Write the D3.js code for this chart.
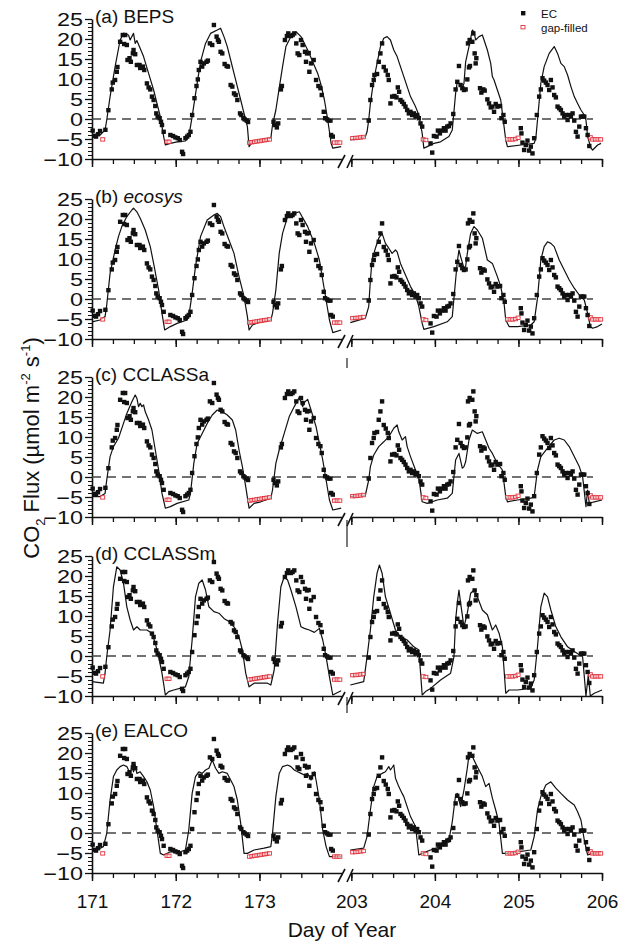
<!DOCTYPE html>
<html>
<head>
<meta charset="utf-8">
<script src="https://cdn.jsdelivr.net/npm/d3@7"></script>
<style>
  body { margin: 0; background: #fff; }
  svg { display: block; }
  text { font-family: Arial, "Liberation Sans", Helvetica, sans-serif; fill: #111; }
</style>
</head>
<body>
<svg id="chart" width="626" height="943"></svg>
<script>
// ---- data -------------------------------------------------------------
const majorDays = [171, 172, 173, 203, 204, 205, 206];
const fluxTicks = [-10, -5, 0, 5, 10, 15, 20, 25];
const panelLabels = ["(a) ", "(b) ", "(c) ", "(d) ", "(e) "];
const modelNames = ["BEPS", "ecosys", "CCLASSa", "CCLASSm", "EALCO"];

// eddy-covariance observations [day of year, flux]
const ecObs = [
  [171.008,-2.9],[171.028,-4.2],[171.048,-4.4],[171.072,-3.8],[171.096,-3.0],[171.160,-2.7],
  [171.196,2.2],[171.236,7.4],[171.248,9.1],[171.276,9.75],[171.296,11.8],[171.304,13.0],
  [171.336,19.3],[171.368,21.0],[171.396,21.0],[171.384,18.75],[171.416,18.5],[171.424,14.75],
  [171.448,15.2],[171.464,14.3],[171.488,16.4],[171.496,17.25],[171.516,16.2],[171.536,13.5],
  [171.568,13.5],[171.576,12.75],[171.608,13.1],[171.624,12.25],[171.656,8.9],[171.676,7.9],
  [171.696,7.4],[171.716,5.6],[171.736,4.75],[171.756,3.25],[171.768,1.4],[171.784,0.6],
  [171.808,0.2],[171.824,-0.7],[171.836,-1.5],[171.856,-3.2],
  [171.936,-4.0],[171.968,-4.25],[171.996,-4.6],[172.024,-4.8],[172.048,-5.25],[172.076,-8.2],
  [172.088,-8.75],[172.116,-4.8],[172.136,-4.4],[172.156,-4.0],[172.176,-3.2],
  [172.196,1.0],[172.224,5.2],[172.248,8.25],[172.264,9.9],[172.276,12.25],[172.296,14.3],
  [172.316,13.1],[172.336,13.9],[172.368,14.3],[172.384,14.6],[172.408,18.9],[172.436,18.5],
  [172.456,23.5],[172.488,20.6],[172.504,19.75],[172.516,19.3],[172.536,16.8],[172.556,16.4],
  [172.584,13.75],[172.608,13.25],[172.624,13.1],[172.656,8.5],[172.676,8.1],[172.696,6.4],
  [172.716,6.0],[172.736,4.75],[172.768,1.4],[172.784,1.0],[172.808,0.2],[172.824,-0.1],
  [172.848,-0.4],[172.864,-0.75],
  [173.168,-0.7],[173.184,-1.5],[173.208,-2.1],[173.224,-1.1],[173.256,7.4],[173.268,8.25],
  [173.304,19.75],[173.328,20.75],[173.344,21.4],[173.376,20.75],[173.396,21.0],[173.416,21.4],
  [173.44,18.9],[173.456,16.4],[173.476,16.0],[173.496,19.75],[173.516,18.5],[173.544,16.8],
  [173.556,14.3],[173.568,16.4],[173.588,16.5],[173.596,11.8],[173.616,13.9],[173.648,14.75],
  [173.676,9.75],[173.704,8.25],[173.728,7.7],[173.744,6.0],[173.768,1.8],[173.784,0.2],
  [173.808,-0.1],[173.824,-0.4],[173.848,-0.4],[173.856,-4.0],[173.876,-4.4],
  [203.208,-0.4],[203.228,4.75],[203.248,8.5],[203.268,9.75],[203.276,11.0],[203.308,11.25],
  [203.328,14.3],[203.348,16.4],[203.368,18.9],[203.388,13.0],[203.412,12.1],[203.436,11.0],
  [203.448,9.75],[203.468,3.9],[203.488,5.6],[203.516,5.75],[203.54,5.4],[203.556,7.9],
  [203.572,6.8],[203.588,4.75],[203.608,4.3],[203.628,3.75],[203.648,3.1],[203.668,2.25],
  [203.688,1.4],[203.708,1.8],[203.728,1.0],[203.748,1.4],[203.768,0.6],[203.788,1.0],
  [203.808,0.2],[203.828,-1.1],[203.848,-1.9],
  [203.948,-6.1],[203.968,-8.4],[203.988,-4.25],[204.02,-4.4],[204.036,-2.9],[204.06,-3.6],
  [204.084,-2.9],[204.108,-2.3],[204.128,-2.9],[204.148,-1.9],[204.168,-1.75],[204.188,-1.1],
  [204.22,1.25],[204.248,7.4],[204.268,9.3],[204.288,13.25],[204.308,8.5],[204.328,7.7],
  [204.348,7.25],[204.368,7.4],[204.388,9.9],[204.408,12.9],[204.42,13.25],[204.396,18.9],
  [204.416,19.75],[204.448,19.3],[204.46,21.4],[204.476,16.4],[204.488,13.9],[204.496,15.2],
  [204.54,7.7],[204.556,6.6],[204.58,7.4],[204.596,7.1],[204.628,4.9],[204.648,3.9],
  [204.668,2.9],[204.688,3.1],[204.708,1.8],[204.728,3.75],[204.748,3.1],[204.78,3.25],
  [204.796,0.2],[204.82,1.0],[204.836,-0.7],
  [205.028,-2.3],[205.036,-3.6],[205.048,-5.9],[205.068,-7.75],[205.088,-6.5],[205.108,-5.4],
  [205.128,-7.9],[205.148,-6.9],[205.168,-8.6],[205.188,-4.8],[205.22,1.0],[205.248,5.6],
  [205.268,7.4],[205.288,10.2],[205.308,9.6],[205.328,9.1],[205.348,8.5],[205.368,7.25],
  [205.388,9.75],[205.408,7.9],[205.428,6.0],[205.448,5.4],[205.468,3.1],[205.488,2.7],
  [205.508,2.25],[205.528,1.4],[205.548,0.6],[205.568,1.0],[205.588,-0.25],[205.608,1.0],
  [205.628,0.6],[205.648,1.4],[205.668,-0.4],[205.688,-3.2],[205.708,-4.4],[205.728,-1.9],
  [205.748,0.6],[205.768,0.6],[205.788,0.6],[205.808,-2.3],[205.828,-4.0],[205.848,-6.75]
];

// gap-filled night-time values [day of year, flux]
const gapFilled = [
  [171.128,-5.1],[171.896,-5.7],[171.92,-5.7],
  [172.88,-5.9],[172.91,-5.8],[172.94,-5.7],[172.97,-5.6],[173.0,-5.5],[173.03,-5.4],
  [173.06,-5.3],[173.09,-5.2],[173.12,-5.1],
  [173.896,-5.9],[173.928,-5.9],[173.96,-5.9],
  [203.016,-4.8],[203.048,-4.75],[203.08,-4.7],[203.112,-4.6],[203.144,-4.5],
  [203.86,-5.1],[203.892,-5.25],
  [204.868,-5.1],[204.9,-5.1],[204.932,-5.1],[204.964,-5.0],[204.996,-4.7],
  [205.86,-4.6],[205.888,-5.1],[205.92,-5.1],[205.952,-5.1],[205.984,-5.1]
];

// simulated fluxes [day of year, flux]
const bepsFlux = [
  [171.0,-4.4],[171.096,-4.0],[171.156,-2.75],[171.176,-0.25],[171.216,5.6],[171.276,13.1],
  [171.336,19.75],[171.376,21.4],[171.436,21.0],[171.456,19.75],[171.476,20.6],[171.496,21.4],
  [171.516,18.9],[171.536,19.6],[171.616,15.6],[171.676,11.4],[171.736,7.25],[171.776,3.9],
  [171.816,0.6],[171.856,-4.4],[171.876,-6.5],[171.936,-6.1],[172.016,-5.7],[172.116,-5.5],
  [172.156,-4.4],[172.196,0.6],[172.256,8.9],[172.296,14.3],[172.356,18.9],[172.416,21.4],
  [172.496,22.25],[172.536,22.7],[172.576,20.6],[172.616,18.1],[172.656,14.75],[172.696,11.4],
  [172.736,8.1],[172.776,4.75],[172.816,1.4],[172.856,-1.9],[172.876,-6.9],[172.916,-5.7],
  [173.016,-5.25],[173.136,-4.8],[173.156,-1.5],[173.196,2.25],[173.236,7.7],[173.276,13.1],
  [173.316,18.1],[173.376,20.6],[173.436,21.8],[173.496,20.6],[173.576,17.25],[173.636,14.3],
  [173.696,11.4],[173.736,8.5],[173.776,4.75],[173.816,-0.25],[173.856,-6.1],[173.876,-7.3],
  [173.976,-6.9],
  [202.988,-5.25],[203.168,-4.4],[203.188,-3.2],[203.208,-0.25],[203.228,3.9],[203.268,9.75],
  [203.308,13.9],[203.348,18.1],[203.388,20.2],[203.428,20.6],[203.468,19.75],[203.508,17.25],
  [203.548,15.6],[203.588,13.1],[203.628,10.6],[203.668,8.1],[203.708,5.6],[203.768,3.1],
  [203.808,1.0],[203.848,-3.6],[203.868,-7.3],[203.908,-6.9],[203.988,-6.1],[204.068,-5.7],
  [204.168,-4.4],[204.208,-2.75],[204.248,6.4],[204.268,9.3],[204.308,8.5],[204.328,7.7],
  [204.348,8.9],[204.368,14.3],[204.408,18.1],[204.448,22.25],[204.468,21.8],[204.488,19.75],
  [204.528,20.6],[204.568,21.0],[204.628,17.25],[204.668,13.9],[204.688,10.6],[204.708,9.75],
  [204.748,7.25],[204.788,4.75],[204.808,1.4],[204.848,-5.25],[204.868,-6.9],[205.028,-6.5],
  [205.188,-6.1],[205.208,-4.8],[205.228,-0.25],[205.268,8.9],[205.308,13.1],[205.368,16.4],
  [205.428,18.1],[205.468,16.4],[205.508,13.9],[205.548,13.1],[205.588,11.0],[205.628,8.1],
  [205.668,5.6],[205.708,3.9],[205.748,2.25],[205.788,1.0],[205.808,-0.25],[205.828,-4.4],
  [205.868,-7.3],[205.888,-7.75],[205.948,-6.5],[205.988,-6.1]
];

const ecosysFlux = [
  [171.0,-5.7],[171.096,-5.25],[171.156,-4.4],[171.176,-1.5],[171.216,6.4],[171.276,12.25],
  [171.316,15.6],[171.356,18.1],[171.416,20.6],[171.476,22.25],[171.496,22.7],[171.536,21.8],
  [171.576,20.2],[171.636,17.25],[171.696,13.1],[171.736,8.9],[171.796,2.25],[171.836,-3.6],
  [171.868,-7.75],[171.936,-6.9],[172.016,-6.1],[172.136,-5.25],[172.156,-4.4],[172.196,1.4],
  [172.236,8.1],[172.296,15.6],[172.376,19.75],[172.456,21.0],[172.496,21.4],[172.536,20.6],
  [172.576,18.1],[172.636,14.75],[172.696,11.4],[172.756,5.6],[172.816,0.6],[172.856,-4.4],
  [172.876,-7.75],[172.916,-6.5],[173.016,-5.7],[173.136,-5.25],[173.156,-3.6],[173.196,2.25],
  [173.236,11.4],[173.276,16.4],[173.336,20.6],[173.416,21.4],[173.476,21.8],[173.576,18.1],
  [173.656,13.9],[173.716,9.75],[173.756,4.75],[173.796,-0.25],[173.836,-5.25],[173.876,-8.4],
  [173.976,-7.75],
  [202.988,-5.9],[203.168,-4.8],[203.208,-1.9],[203.228,4.75],[203.248,9.75],[203.288,12.7],
  [203.328,15.2],[203.368,16.4],[203.408,13.9],[203.448,12.7],[203.488,11.4],[203.528,12.25],
  [203.548,11.8],[203.588,8.9],[203.648,6.0],[203.708,3.1],[203.768,1.0],[203.808,-1.9],
  [203.848,-6.1],[203.868,-7.6],[203.988,-6.9],[204.148,-5.7],[204.208,-4.4],[204.248,4.75],
  [204.268,9.3],[204.288,12.25],[204.308,10.6],[204.348,7.7],[204.368,8.1],[204.388,11.4],
  [204.428,16.4],[204.468,18.1],[204.508,17.25],[204.568,15.2],[204.628,9.75],[204.688,8.9],
  [204.748,5.6],[204.788,3.1],[204.828,-1.1],[204.848,-5.25],[204.888,-6.9],[204.988,-6.9],
  [205.148,-6.5],[205.188,-5.7],[205.228,0.2],[205.268,9.75],[205.308,13.1],[205.348,14.3],
  [205.388,13.9],[205.428,13.1],[205.488,9.75],[205.548,7.25],[205.608,4.75],[205.668,2.7],
  [205.728,1.0],[205.788,-0.25],[205.828,-3.6],[205.86,-6.9],[205.888,-7.3],[205.948,-6.9],
  [206.0,-6.25]
];

const cclassaFlux = [
  [171.0,-4.9],[171.096,-4.9],[171.156,-4.1],[171.176,-0.75],[171.216,5.1],[171.256,7.6],
  [171.316,9.7],[171.376,13.4],[171.416,15.9],[171.476,18.8],[171.516,20.5],[171.536,19.7],
  [171.556,17.6],[171.576,18.4],[171.596,17.6],[171.616,18.0],[171.636,16.3],[171.676,14.25],
  [171.716,11.75],[171.756,6.75],[171.796,1.75],[171.836,-4.1],[171.876,-7.8],[171.936,-7.4],
  [172.016,-6.6],[172.156,-5.75],[172.176,-4.1],[172.216,3.4],[172.256,8.4],[172.316,10.9],
  [172.376,13.4],[172.436,15.5],[172.496,16.75],[172.556,16.3],[172.616,15.5],[172.676,14.25],
  [172.716,11.75],[172.756,6.75],[172.796,2.6],[172.836,-2.4],[172.876,-7.8],[172.936,-6.6],
  [173.016,-6.2],[173.136,-5.3],[173.156,-3.25],[173.196,3.4],[173.236,6.75],[173.296,10.9],
  [173.356,15.1],[173.416,17.6],[173.476,19.9],[173.516,17.6],[173.544,18.8],[173.576,19.4],
  [173.616,16.75],[173.676,12.6],[173.716,8.4],[173.756,4.25],[173.796,-0.75],[173.836,-5.75],
  [173.876,-8.25],[173.976,-7.8],
  [202.988,-4.9],[203.168,-4.5],[203.208,-0.75],[203.228,2.6],[203.268,5.5],[203.328,7.6],
  [203.388,8.8],[203.448,10.1],[203.508,12.2],[203.548,13.0],[203.568,11.3],[203.608,9.25],
  [203.648,10.1],[203.668,7.6],[203.708,5.1],[203.768,1.75],[203.808,-0.3],[203.848,-6.2],
  [203.908,-6.6],[204.028,-5.75],[204.148,-5.3],[204.208,-4.1],[204.248,4.25],[204.288,5.9],
  [204.328,2.2],[204.348,2.6],[204.368,3.8],[204.408,9.25],[204.448,11.75],[204.508,10.9],
  [204.568,11.3],[204.608,9.25],[204.648,7.2],[204.688,5.9],[204.748,3.4],[204.808,1.75],
  [204.848,-4.9],[204.868,-6.2],[204.988,-5.75],[205.148,-5.3],[205.188,-4.9],[205.228,1.75],
  [205.268,5.1],[205.348,7.2],[205.428,9.25],[205.488,9.7],[205.548,9.25],[205.608,7.6],
  [205.668,5.1],[205.728,2.6],[205.768,0.1],[205.808,-7.4],[205.828,-3.25],[205.848,-6.6],
  [205.908,-6.2],[206.0,-5.75]
];

const cclassmFlux = [
  [171.0,-6.4],[171.136,-6.8],[171.156,-4.3],[171.176,-0.2],[171.216,6.5],[171.256,17.3],
  [171.296,22.3],[171.336,21.5],[171.376,18.2],[171.416,12.3],[171.456,9.0],[171.496,6.5],
  [171.536,7.3],[171.576,6.5],[171.656,6.5],[171.716,5.7],[171.756,3.2],[171.796,-0.2],
  [171.836,-4.3],[171.876,-9.75],[171.916,-8.9],[171.976,-8.5],[172.116,-7.7],[172.156,-5.2],
  [172.196,4.0],[172.236,14.8],[172.276,18.2],[172.316,19.0],[172.356,16.5],[172.396,12.3],
  [172.456,11.1],[172.516,10.7],[172.576,9.4],[172.636,8.6],[172.696,7.3],[172.756,4.8],
  [172.796,1.5],[172.836,-4.3],[172.876,-7.7],[172.936,-6.8],[173.096,-6.8],[173.136,-7.25],
  [173.176,-3.5],[173.216,8.2],[173.256,17.3],[173.296,19.8],[173.336,19.0],[173.376,16.5],
  [173.436,12.3],[173.496,7.3],[173.536,6.9],[173.596,6.5],[173.656,5.9],[173.716,6.9],
  [173.756,4.0],[173.796,-0.2],[173.836,-5.2],[173.876,-9.75],[173.916,-9.3],[173.976,-8.7],
  [202.988,-7.25],[203.148,-6.4],[203.188,-0.2],[203.228,6.5],[203.268,14.8],[203.308,20.7],
  [203.336,22.75],[203.368,20.7],[203.408,14.8],[203.468,10.7],[203.528,6.5],[203.588,4.8],
  [203.668,4.0],[203.748,2.3],[203.808,1.5],[203.848,-9.75],[203.888,-8.9],[203.948,-8.1],
  [204.068,-6.0],[204.188,-4.3],[204.228,-0.2],[204.248,9.0],[204.268,13.2],[204.288,16.5],
  [204.308,13.2],[204.348,7.3],[204.388,10.7],[204.428,15.7],[204.468,16.5],[204.508,14.8],
  [204.568,11.5],[204.628,10.3],[204.688,6.5],[204.728,7.75],[204.768,5.7],[204.808,2.3],
  [204.848,-9.3],[204.888,-8.5],[204.988,-8.5],[205.148,-8.1],[205.188,-6.0],[205.228,2.3],
  [205.268,12.3],[205.308,15.7],[205.348,14.8],[205.388,11.5],[205.448,7.3],[205.508,4.8],
  [205.588,2.3],[205.668,1.1],[205.768,-0.2],[205.808,-10.0],[205.836,-4.75],[205.86,-10.0],
  [205.908,-9.3],[206.0,-8.5]
];

const ealcoFlux = [
  [171.0,-3.8],[171.056,-4.25],[171.136,-3.4],[171.176,-0.1],[171.216,8.25],[171.256,14.1],
  [171.296,15.75],[171.336,16.6],[171.376,17.0],[171.416,16.6],[171.456,14.9],[171.476,16.6],
  [171.496,15.3],[171.516,17.0],[171.536,14.9],[171.576,15.3],[171.616,14.1],[171.656,12.8],
  [171.696,10.75],[171.736,6.6],[171.776,0.75],[171.816,-5.1],[171.856,-5.5],[171.936,-4.7],
  [172.056,-4.7],[172.116,-4.25],[172.156,0.75],[172.196,9.9],[172.236,14.1],[172.276,15.3],
  [172.316,14.9],[172.356,15.75],[172.396,16.2],[172.436,18.25],[172.476,16.2],[172.516,14.9],
  [172.556,15.3],[172.616,14.9],[172.656,13.25],[172.696,11.6],[172.736,8.25],[172.776,2.4],
  [172.816,-5.1],[172.856,-5.1],[172.936,-4.25],[173.056,-3.8],[173.136,-3.4],[173.156,-0.1],
  [173.196,9.1],[173.236,14.9],[173.276,16.6],[173.336,17.0],[173.376,16.6],[173.416,15.75],
  [173.456,15.3],[173.496,14.9],[173.536,14.5],[173.576,14.9],[173.616,13.25],[173.656,15.3],
  [173.676,13.25],[173.716,8.25],[173.756,0.75],[173.796,-3.4],[173.836,-5.9],[173.976,-5.9],
  [202.988,-4.25],[203.148,-3.8],[203.188,-0.9],[203.228,5.75],[203.268,11.6],[203.308,14.1],
  [203.368,14.9],[203.408,15.3],[203.448,16.6],[203.468,15.75],[203.508,17.0],[203.528,13.7],
  [203.568,11.6],[203.608,9.9],[203.628,9.1],[203.668,6.6],[203.708,4.1],[203.768,1.6],
  [203.808,-5.5],[203.848,-5.1],[203.948,-4.25],[204.068,-3.4],[204.168,-1.75],[204.208,2.8],
  [204.248,9.5],[204.268,9.9],[204.308,6.6],[204.348,10.75],[204.388,16.2],[204.408,19.5],
  [204.448,19.1],[204.488,17.4],[204.528,15.75],[204.568,14.1],[204.608,11.6],[204.648,12.4],
  [204.688,8.7],[204.728,5.75],[204.768,2.4],[204.808,-5.1],[204.868,-5.1],[204.988,-4.7],
  [205.148,-4.25],[205.188,-0.9],[205.228,5.75],[205.268,9.1],[205.328,12.0],[205.388,12.8],
  [205.448,11.2],[205.508,9.9],[205.588,8.25],[205.668,7.0],[205.708,5.3],[205.748,3.25],
  [205.788,-1.75],[205.828,-5.5],[205.888,-5.1],[205.988,-4.7]
];

const modelSeries = [bepsFlux, ecosysFlux, cclassaFlux, cclassmFlux, ealcoFlux];

// ---- layout -----------------------------------------------------------
const svg = d3.select("#chart");
const panelTops = [19, 199, 377, 556, 733];
const panelHeight = 140;
const xLeft = d3.scaleLinear().domain([171, 173.98]).range([92, 341.5]);
const xRight = d3.scaleLinear().domain([202.99, 206]).range([350.5, 602]);
const isLeft = d => d < 190;
const xPos = d => isLeft(d) ? xLeft(d) : xRight(d);

const minorLeft = d3.range(171, 173.9, 0.25);
const minorRight = d3.range(203, 206.01, 0.25);

modelSeries.forEach((model, i) => {
  const top = panelTops[i];
  const bottom = top + panelHeight;
  const y = d3.scaleLinear().domain([-10, 25]).range([bottom, top]);
  const g = svg.append("g");
  const last = i === modelSeries.length - 1;

  // y axis: minor ticks every unit, labelled major ticks every 5
  g.append("g").attr("transform", "translate(92,0)")
    .call(d3.axisLeft(y).tickValues(d3.range(-10, 26, 1)).tickSize(4).tickSizeOuter(0).tickFormat(""))
    .call(a => a.select(".domain").remove())
    .call(a => a.selectAll("line").attr("stroke", "#111").attr("stroke-width", 1));
  g.append("g").attr("transform", "translate(92,0)")
    .call(d3.axisLeft(y).tickValues(fluxTicks).tickSize(7).tickSizeOuter(0))
    .call(a => a.select(".domain").attr("stroke", "#111").attr("stroke-width", 1.6))
    .call(a => a.selectAll("line").attr("stroke", "#111").attr("stroke-width", 1.3))
    .call(a => a.selectAll("text")
      .attr("x", 0).attr("dy", "0.36em")
      .attr("text-anchor", "end")
      .attr("transform", "translate(-9,0) scale(1.3,1)")
      .style("font-size", "18px").attr("fill", "#111"));

  // x axis, two segments either side of the break
  [[xLeft, minorLeft, majorDays.filter(isLeft)], [xRight, minorRight, majorDays.filter(d => !isLeft(d))]]
    .forEach(([sx, minor, major]) => {
      g.append("g").attr("transform", `translate(0,${bottom})`)
        .call(d3.axisBottom(sx).tickValues(minor).tickSize(5).tickSizeOuter(0).tickFormat(""))
        .call(a => a.select(".domain").attr("stroke", "#111").attr("stroke-width", 1.6))
        .call(a => a.selectAll("line").attr("stroke", "#111").attr("stroke-width", 1.3));
      const ax = g.append("g").attr("transform", `translate(0,${bottom})`)
        .call(d3.axisBottom(sx).tickValues(major).tickSize(8).tickSizeOuter(0)
          .tickFormat(last ? d3.format("d") : ""))
        .call(a => a.select(".domain").remove())
        .call(a => a.selectAll("line").attr("stroke", "#111").attr("stroke-width", 1.5));
      ax.selectAll("text").attr("dy", "1.25em").style("font-size", "19px").attr("fill", "#111");
    });

  // axis break marks
  [[338, 345], [347, 353]].forEach(([x0, x1]) => {
    g.append("line").attr("x1", x0).attr("y1", bottom + 9).attr("x2", x1).attr("y2", bottom - 4)
      .attr("stroke", "#111").attr("stroke-width", 1.6);
  });

  // zero reference line
  g.append("line").attr("x1", 92).attr("x2", 593).attr("y1", y(0)).attr("y2", y(0))
    .attr("stroke", "#444").attr("stroke-width", 1.3).attr("stroke-dasharray", "9,6");

  // model line, one path per segment
  const line = d3.line().x(d => xPos(d[0])).y(d => y(d[1]));
  [model.filter(d => isLeft(d[0])), model.filter(d => !isLeft(d[0]))].forEach(seg => {
    g.append("path").datum(seg).attr("d", line)
      .attr("fill", "none").attr("stroke", "#111").attr("stroke-width", 1.2)
      .attr("stroke-linejoin", "round");
  });

  // gap-filled values
  g.selectAll(".gap").data(gapFilled).join("rect")
    .attr("x", d => xPos(d[0]) - 2).attr("y", d => y(d[1]) - 1.7)
    .attr("width", 4).attr("height", 3.4)
    .attr("fill", "#fff").attr("fill-opacity", 0.6)
    .attr("stroke", "#e2323c").attr("stroke-width", 0.9);

  // EC observations
  g.selectAll(".ec").data(ecObs).join("rect")
    .attr("x", d => xPos(d[0]) - 2.2).attr("y", d => y(d[1]) - 2.2)
    .attr("width", 4.4).attr("height", 4.4).attr("fill", "#111");

  // panel title
  const t = g.append("text").attr("x", 95).attr("y", top + 4).style("font-size", "19px");
  t.append("tspan").text(panelLabels[i]);
  t.append("tspan").text(modelNames[i]).style("font-style", i === 1 ? "italic" : "normal");
});

// short connectors left by the axis break between panels
[[358, 368], [520, 547], [697, 713]].forEach(([y0, y1]) => {
  svg.append("line").attr("x1", 347).attr("x2", 347).attr("y1", y0).attr("y2", y1)
    .attr("stroke", "#222").attr("stroke-width", 1.2);
});

// legend
const lg = svg.append("g");
lg.append("rect").attr("x", 521).attr("y", 11).attr("width", 4.4).attr("height", 4.4).attr("fill", "#111");
lg.append("text").attr("x", 541).attr("y", 17.5).style("font-size", "11.5px").text("EC");
lg.append("rect").attr("x", 521).attr("y", 25.5).attr("width", 4).attr("height", 3.4)
  .attr("fill", "#fff").attr("stroke", "#e2323c").attr("stroke-width", 0.9);
lg.append("text").attr("x", 541).attr("y", 31.5).style("font-size", "11.5px").text("gap-filled");

// axis titles
svg.append("text").attr("x", 342).attr("y", 937).attr("text-anchor", "middle")
  .style("font-size", "21px").text("Day of Year");

const yt = svg.append("text")
  .attr("transform", "translate(39,448) rotate(-90)")
  .attr("text-anchor", "middle").style("font-size", "22px");
yt.append("tspan").text("CO");
yt.append("tspan").attr("dy", 6).style("font-size", "13px").text("2");
yt.append("tspan").attr("dy", -6).text(" Flux (\u00b5mol m");
yt.append("tspan").attr("dy", -9).style("font-size", "13px").text("-2");
yt.append("tspan").attr("dy", 9).text(" s");
yt.append("tspan").attr("dy", -9).style("font-size", "13px").text("-1");
yt.append("tspan").attr("dy", 9).text(")");
</script>
</body>
</html>
